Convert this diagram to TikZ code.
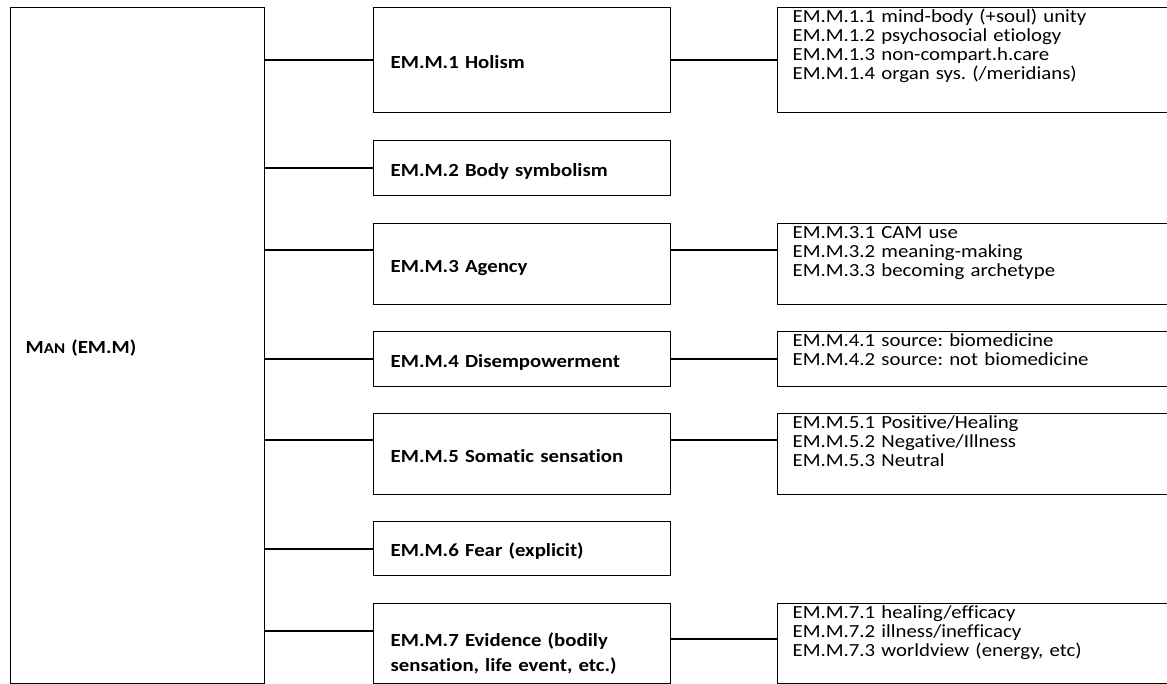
\documentclass[tikz,border=0pt]{standalone}
\usepackage{fontspec}
\setmainfont{Carlito}[FakeStretch=1.125, Ligatures=CommonOff]
\frenchspacing
\newcommand{\fakesc}[1]{{\fontsize{15}{15}\selectfont #1}}
\tikzset{
  box/.style={draw, line width=1.3pt, rectangle, anchor=north west,
    align=left, inner ysep=0pt},
  mainbox/.style={box, font=\fontsize{18.5}{20}\selectfont\bfseries,
    inner xsep=15pt, text width=224pt, minimum width=254pt,
    minimum height=676pt, text height=21pt, text depth=5pt},
  midbox/.style={box, font=\fontsize{18.5}{20}\selectfont\bfseries,
    inner xsep=17pt, text width=263pt, minimum width=297pt,
    minimum height=#1, text height=21pt, text depth=5pt},
  subbox/.style={box, font=\fontsize{18.5}{19}\selectfont,
    inner xsep=15pt, text width=362pt, text height=14.5pt, text depth=#1},
  every edge/.style={draw, line width=1.3pt}
}
\begin{document}
\begin{tikzpicture}[x=1pt, y=-1pt]
    \useasboundingbox (0,0) rectangle (1167,684);

    \node[mainbox] (man) at (10,7) {M\fakesc{AN} (EM.M)};

    \node[midbox=105pt] (m1) at (373,7) {EM.M.1 Holism};
    \node[midbox=55pt] (m2) at (373,140) {EM.M.2 Body symbolism};
    \node[midbox=81pt] (m3) at (373,223) {EM.M.3 Agency};
    \node[midbox=55pt] (m4) at (373,331) {EM.M.4 Disempowerment};
    \node[midbox=81pt] (m5) at (373,413) {EM.M.5 Somatic sensation};
    \node[midbox=54pt] (m6) at (373,521) {EM.M.6 Fear (explicit)};
    \node[midbox=80pt, font=\fontsize{18.5}{25}\selectfont\bfseries,
    text height=36pt, text depth=30pt] (m7) at (373,603) {EM.M.7 Evidence
    (bodily\\ sensation, life event, etc.)};

    \node[subbox=90.5pt] (s1) at (777,7) {EM.M.1.1 mind-body (+soul) unity\\
    EM.M.1.2 psychosocial etiology\\ EM.M.1.3 non-compart.h.care\\
    EM.M.1.4 organ sys. (/meridians)};
    \node[subbox=66.5pt] (s3) at (777,223) {EM.M.3.1 CAM use\\
    EM.M.3.2 meaning-making\\ EM.M.3.3 becoming archetype};
    \node[subbox=40.5pt] (s4) at (777,331) {EM.M.4.1 source: biomedicine\\
    EM.M.4.2 source: not biomedicine};
    \node[subbox=66.5pt] (s5) at (777,413) {EM.M.5.1 Positive/Healing\\
    EM.M.5.2 Negative/Illness\\ EM.M.5.3 Neutral};
    \node[subbox=65.5pt] (s7) at (777,603) {EM.M.7.1 healing/efficacy\\
    EM.M.7.2 illness/inefficacy\\ EM.M.7.3 worldview (energy, etc)};

    \coordinate (j1) at (0,60); \coordinate (j2) at (0,168);
    \coordinate (j3) at (0,250); \coordinate (j4) at (0,359);
    \coordinate (j5) at (0,440); \coordinate (j6) at (0,549);
    \coordinate (j7) at (0,631); \coordinate (k7) at (0,639);

    \path (man.east |- j1) edge (m1.west |- j1); \path (man.east |- j2) edge
    (m2.west |- j2); \path (man.east |- j3) edge (m3.west |- j3); \path
    (man.east |- j4) edge (m4.west |- j4); \path (man.east |- j5) edge
    (m5.west |- j5); \path (man.east |- j6) edge (m6.west |- j6); \path
    (man.east |- j7) edge (m7.west |- j7);

    \path (m1.east |- j1) edge (s1.west |- j1); \path (m3.east |- j3) edge
    (s3.west |- j3); \path (m4.east |- j4) edge (s4.west |- j4); \path
    (m5.east |- j5) edge (s5.west |- j5); \path (m7.east |- k7) edge
    (s7.west |- k7);
\end{tikzpicture}
\end{document}
